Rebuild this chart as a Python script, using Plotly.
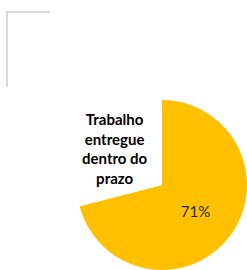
import math
import plotly.graph_objects as go

# Data
categories = ["Trabalho entregue dentro do prazo", "Outros"]
values = [71, 29]
pct_labels = ["71%", ""]
category_label = "<b>Trabalho<br>entregue<br>dentro do<br>prazo</b>"
slice_colors = ["#FFC000", "#FFFFFF"]

W, H = 247, 270
# pie domain (paper fractions)
dom_x = [77 / W, 1.0]
dom_y = [0.0, 1 - 100 / H]

fig = go.Figure(
    go.Pie(
        labels=categories,
        values=values,
        text=pct_labels,
        textinfo="text",
        textposition="inside",
        insidetextorientation="horizontal",
        insidetextfont=dict(family="Lato, Carlito, sans-serif", color="#262626", size=15),
        marker=dict(colors=slice_colors, line=dict(width=0)),
        sort=False,
        direction="clockwise",
        rotation=0,
        hoverinfo="skip",
        domain=dict(x=dom_x, y=dom_y),
    )
)

# place the category label inside the white slice along its bisector
total = sum(values)
mid_frac = (values[0] + values[1] / 2) / total
ang = 2 * math.pi * mid_frac
cx_px = (dom_x[0] + dom_x[1]) / 2 * W
cy_px = (dom_y[0] + dom_y[1]) / 2 * H
r_px = min((dom_x[1] - dom_x[0]) * W, (dom_y[1] - dom_y[0]) * H) / 2
lab_r = 0.70 * r_px
ax_px = cx_px + math.sin(ang) * lab_r
ay_px = cy_px + math.cos(ang) * lab_r

fig.update_layout(
    width=W,
    height=H,
    margin=dict(l=0, r=0, t=0, b=0),
    paper_bgcolor="white",
    plot_bgcolor="white",
    showlegend=False,
    annotations=[
        dict(
            text=category_label,
            x=ax_px / W,
            y=ay_px / H,
            xref="paper",
            yref="paper",
            xanchor="center",
            yanchor="middle",
            showarrow=False,
            align="center",
            font=dict(family="Lato, Carlito, sans-serif", size=15, color="#000000"),
        )
    ],
    shapes=[
        dict(type="line", xref="paper", yref="paper",
             x0=7 / W, x1=7 / W, y0=1 - 11 / H, y1=1 - 87 / H,
             line=dict(color="#D9D9D9", width=2)),
        dict(type="line", xref="paper", yref="paper",
             x0=6 / W, x1=50 / W, y0=1 - 12 / H, y1=1 - 12 / H,
             line=dict(color="#D9D9D9", width=2)),
    ],
)

fig.write_html(
    "out.html",
    config={"displayModeBar": False},
    post_script="document.body.style.margin='0';document.body.style.overflow='hidden';",
)
